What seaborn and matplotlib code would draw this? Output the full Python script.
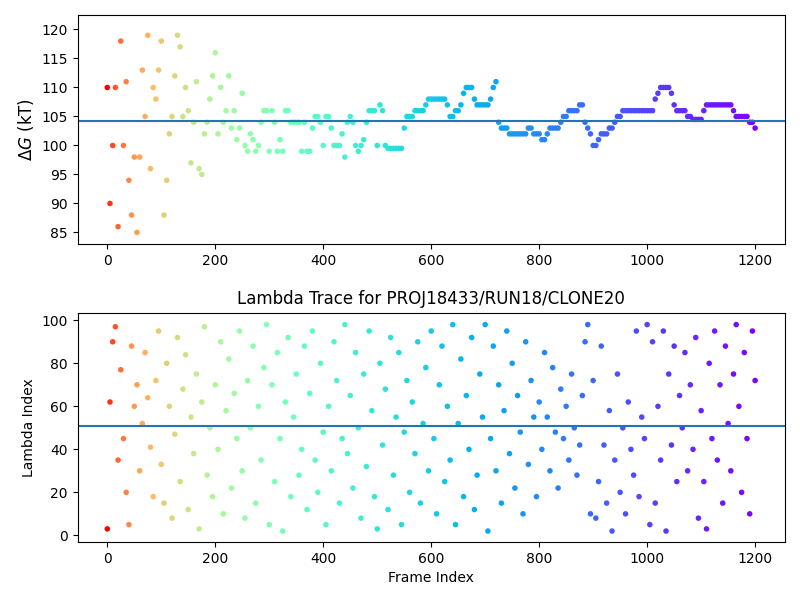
import matplotlib
matplotlib.use("Agg")
import matplotlib.pyplot as plt
import seaborn as sns
import numpy as np
import pandas as pd

frames = list(range(0, 1201, 5))
dg = [110,90,100,110,86,118,100,111,94,88,98,85,98,113,105,119,96,110,108,113,118,
 88,94,102,105,112,119,117,105,110,106,97,104,111,96,95,102,104,108,112,116,
 102,110,104,106,112,103,106,101,103,109,100,99,102,101,99,100,104,106,106,99,
 106,104,99,101,99,106,106,104,104,104,104,99,104,99,99,103,105,105,104,100,
 105,105,103,100,100,100,102,98,104,105,104,100,99,100,101,104,106,106,106,100,
 107,106,100,99.5,99.5,99.5,99.5,99.5,99.5,103,105,105,105,106,106,106,106,107,108,108,
 108,108,108,108,108,107,105,105,106,106,107,109,110,110,110,108,107,107,107,107,
 107,108,110,111,104,103,103,103,102,102,102,102,102,102,102,103,103,102,102,102,
 101,101,102,103,103,103,103,104,105,105,106,106,106,106,107,107,104,103,102,100,
 100,101,102,102,102,103,103,104,105,105,106,106,106,106,106,106,106,106,106,106,
 106,106,108,109,110,110,110,110,109,107,106,106,106,106,105,105,104.5,104.5,104.5,104.5,
 106,107,107,107,107,107,107,107,107,107,107,106,105,105,105,105,105,104,104,103]
lam = [3,62,90,97,35,77,45,20,5,88,60,70,30,52,85,64,41,18,72,95,33,
 15,80,60,8,47,92,25,68,84,12,55,38,75,3,62,97,28,50,18,70,
 40,90,10,58,82,22,66,45,95,30,8,72,50,88,15,60,35,78,98,5,
 70,25,85,45,2,62,92,18,55,75,28,40,88,12,66,95,35,20,80,48,
 5,60,30,90,72,15,45,98,38,65,22,85,50,8,75,32,95,58,18,3,
 80,42,68,12,92,28,55,85,5,48,72,20,62,38,90,15,52,78,30,95,
 45,10,70,88,25,60,35,98,5,52,82,18,65,40,92,12,28,75,55,98,
 2,45,88,30,70,15,58,95,38,80,22,65,48,10,90,33,72,55,18,62,
 40,85,55,30,78,48,22,68,45,60,35,75,50,28,42,65,90,98,10,72,
 8,25,88,42,15,58,2,35,75,20,50,10,62,40,28,95,18,55,45,98,
 5,90,15,60,35,95,2,75,42,88,25,65,50,85,30,70,40,92,8,58,
 25,3,80,45,95,35,70,15,88,52,30,75,98,60,20,85,45,10,95,72]
dg_mean = 104.2
lam_mean = 51

df = pd.DataFrame({"frame": frames, "dg": dg, "lam": lam})
df["cval"] = 1 - np.sqrt(df["frame"] / 1200.0)

fig, (ax1, ax2) = plt.subplots(2, 1, figsize=(8, 6), dpi=100)
fig.subplots_adjust(left=0.097, right=0.981, top=0.975, bottom=0.097, hspace=0.3)

for ax, col in ((ax1, "dg"), (ax2, "lam")):
    sns.scatterplot(data=df, x="frame", y=col, hue="cval", palette="rainbow",
                    hue_norm=(0, 1), s=16, linewidth=0, legend=False, ax=ax)
    ax.set_xlim(-55, 1255)

ax1.axhline(dg_mean, color="C0")
ax1.set_ylim(83, 122.5)
ax1.set_yticks(range(85, 121, 5))
ax1.set_xlabel("")
ax1.set_ylabel(r"$\Delta G$ (kT)", fontsize=12)

ax2.axhline(lam_mean, color="C0")
ax2.set_ylim(-3, 103.5)
ax2.set_xlabel("Frame Index")
ax2.set_ylabel("Lambda Index")
ax2.set_title("Lambda Trace for PROJ18433/RUN18/CLONE20", fontsize=12)

fig.savefig("out.png")
